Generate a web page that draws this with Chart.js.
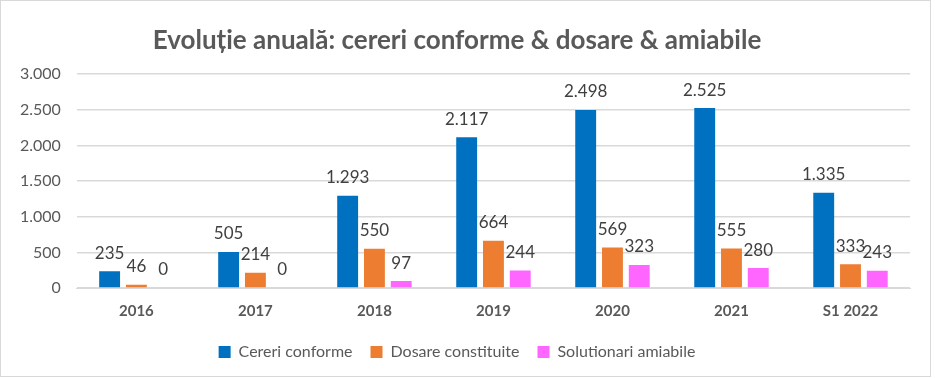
<!DOCTYPE html>
<html>
<head>
<meta charset="utf-8">
<script src="https://cdn.jsdelivr.net/npm/chart.js@4"></script>
<style>
  body { margin: 0; background: #fff; }
  #box { position: absolute; left: 0; top: 0; width: 929px; height: 375px; border: 1px solid #d9d9d9; }
</style>
</head>
<body>
<div id="box"><canvas id="chart" width="929" height="375"></canvas></div>
<script>
const years = ['2016', '2017', '2018', '2019', '2020', '2021', 'S1 2022'];
const cereriConforme = [235, 505, 1293, 2117, 2498, 2525, 1335];
const dosareConstituite = [46, 214, 550, 664, 569, 555, 333];
const solutionariAmiabile = [0, 0, 97, 244, 323, 280, 243];

const fmt = v => String(v).replace(/\B(?=(\d{3})+(?!\d))/g, '.');

// value labels above every bar, like Excel's "outside end"
const valueLabels = {
  id: 'valueLabels',
  afterDatasetsDraw(chart) {
    const ctx = chart.ctx;
    ctx.save();
    ctx.font = '17px Lato, "Noto Sans", sans-serif';
    ctx.fillStyle = '#404040';
    ctx.textAlign = 'center';
    ctx.textBaseline = 'middle';
    chart.data.datasets.forEach((ds, i) => {
      chart.getDatasetMeta(i).data.forEach((bar, j) => {
        ctx.fillText(fmt(ds.data[j]), bar.x, bar.y - 18);
      });
    });
    ctx.restore();
  }
};

new Chart(document.getElementById('chart').getContext('2d'), {
  type: 'bar',
  data: {
    labels: years,
    datasets: [
      { label: 'Cereri conforme', data: cereriConforme, backgroundColor: '#0070C0' },
      { label: 'Dosare constituite', data: dosareConstituite, backgroundColor: '#ED7D31' },
      { label: 'Solutionari amiabile', data: solutionariAmiabile, backgroundColor: '#FF66FF' },
    ],
  },
  options: {
    responsive: false,
    animation: false,
    categoryPercentage: 0.675,
    barPercentage: 0.78,
    layout: { padding: { left: 3, right: 20, top: 8, bottom: 6 } },
    plugins: {
      title: {
        display: true,
        text: 'Evoluție anuală: cereri conforme & dosare & amiabile',
        color: '#595959',
        font: { family: 'Lato, "Noto Sans", sans-serif', size: 26, weight: 'bold' },
        padding: { top: 16, bottom: 18 },
      },
      legend: {
        position: 'bottom',
        labels: {
          color: '#595959',
          font: { family: 'Lato, "Noto Sans", sans-serif', size: 16 },
          boxWidth: 12,
          boxHeight: 12,
          padding: 18,
        },
      },
      tooltip: { enabled: false },
    },
    scales: {
      x: {
        grid: { display: false },
        border: { color: '#d9d9d9' },
        ticks: { color: '#595959', padding: 6, font: { family: 'Lato, "Noto Sans", sans-serif', size: 15, weight: 'bold' } },
      },
      y: {
        min: 0,
        max: 3000,
        grid: { color: '#d9d9d9', lineWidth: 1.5, drawTicks: false },
        border: { display: false },
        ticks: {
          stepSize: 500,
          color: '#595959',
          padding: 16,
          font: { family: 'Lato, "Noto Sans", sans-serif', size: 16 },
          callback: v => fmt(v),
        },
      },
    },
  },
  plugins: [valueLabels],
});
</script>
</body>
</html>
